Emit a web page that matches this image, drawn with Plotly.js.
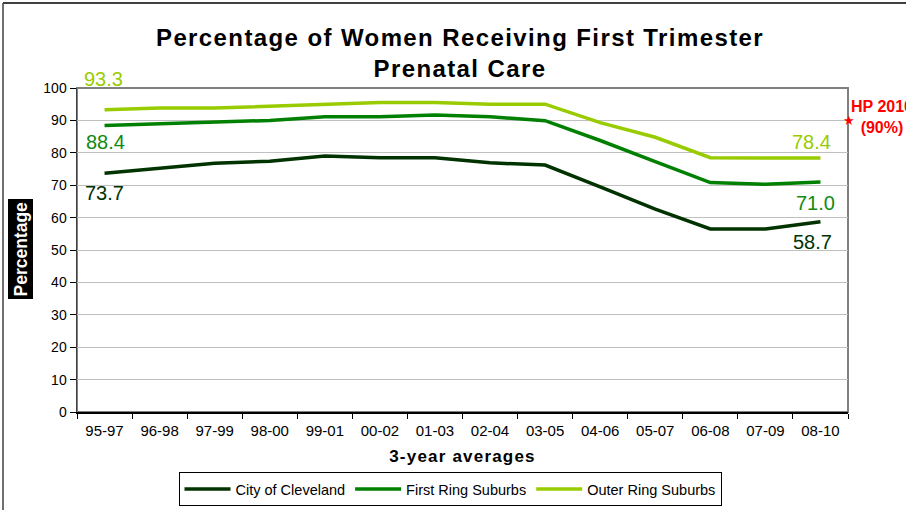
<!DOCTYPE html>
<html>
<head>
<meta charset="utf-8">
<script src="https://cdn.plot.ly/plotly-3.0.1.min.js"></script>
<style>
  html, body { margin: 0; padding: 0; background: #fff; overflow: hidden; }
  #chart { width: 906px; height: 510px; }
  .gtitle { letter-spacing: 1.4px; }
  .g-xtitle text { letter-spacing: 1.2px; }
</style>
</head>
<body>
<div id="chart"></div>
<script>
const categories = ['95-97','96-98','97-99','98-00','99-01','00-02','01-03','02-04','03-05','04-06','05-07','06-08','07-09','08-10'];
const cleveland = [73.7, 75.3, 76.8, 77.4, 79.0, 78.5, 78.5, 76.9, 76.2, 69.5, 62.6, 56.5, 56.5, 58.7];
const firstRing = [88.4, 89.0, 89.5, 90.0, 91.1, 91.1, 91.7, 91.1, 89.9, 83.8, 77.3, 70.8, 70.3, 71.0];
const outerRing = [93.3, 93.8, 93.8, 94.4, 94.9, 95.5, 95.5, 95.0, 95.0, 89.3, 84.8, 78.5, 78.4, 78.4];
const seriesNames = ['City of Cleveland', 'First Ring Suburbs', 'Outer Ring Suburbs'];
const hpTarget = 90;
const yTicks = [0,10,20,30,40,50,60,70,80,90,100];

const colors = ['#003300', '#008000', '#99cc00'];
const labelColors = ['#003300', '#108a10', '#99cc00'];

// plot area in pixels
const L = 77, R = 58, T = 88, B = 98, W = 906, H = 510;
const pw = W - L - R, ph = H - T - B;
const px = x => (x - L) / pw;
const py = y => (H - B - y) / ph;

const allSeries = [cleveland, firstRing, outerRing];
const traces = allSeries.map((vals, i) => ({
  type: 'scatter', mode: 'lines', x: categories, y: vals, name: seriesNames[i],
  line: { color: colors[i], width: 3.5 }, hoverinfo: 'x+y+name'
}));

const annotations = [];
allSeries.forEach((vals, i) => {
  const fs = [[0, -20], [1, -16], [-1, 31]][i];
  const ls = [[-8, -20], [-5, -21], [-9, 16]][i];
  annotations.push({ x: categories[0], y: vals[0], xref: 'x', yref: 'y', text: vals[0].toFixed(1),
    showarrow: false, xshift: fs[0], yshift: fs[1], font: { family: 'Arial, Liberation Sans, sans-serif', size: 20, color: labelColors[i] } });
  const n = vals.length - 1;
  annotations.push({ x: categories[n], y: vals[n], xref: 'x', yref: 'y', text: vals[n].toFixed(1),
    showarrow: false, xshift: ls[0], yshift: ls[1], font: { family: 'Arial, Liberation Sans, sans-serif', size: 20, color: labelColors[i] } });
});
// HP 2010 target marker
annotations.push({ x: 1, xref: 'paper', y: hpTarget, yref: 'y', text: '★', showarrow: false,
  xanchor: 'center', yanchor: 'middle', xshift: 1, font: { size: 13, color: '#ff0000' } });
annotations.push({ x: px(882), xref: 'paper', y: hpTarget, yref: 'y', text: '<b>HP 2010</b><br><b>(90%)</b>', showarrow: false,
  xanchor: 'center', yanchor: 'middle', yshift: 3, font: { family: 'Arial, Liberation Sans, sans-serif', size: 16, color: '#ff0000' } });
// Y axis title (white on black)
annotations.push({ x: px(20.5), xref: 'paper', y: py(249), yref: 'paper', text: '<b>Percentage</b>', textangle: -90,
  showarrow: false, xanchor: 'center', yanchor: 'middle', bgcolor: '#000000', borderpad: 2,
  font: { family: 'Arial, Liberation Sans, sans-serif', size: 17.5, color: '#ffffff' } });

const shapes = [
  { type: 'rect', xref: 'paper', yref: 'paper', x0: 0, x1: 1, y0: 0, y1: 1, line: { color: '#808080', width: 2 }, layer: 'below' },
  { type: 'line', xref: 'paper', yref: 'paper', x0: px(3), x1: px(906), y0: py(3), y1: py(3), line: { color: '#404040', width: 2 } },
  { type: 'line', xref: 'paper', yref: 'paper', x0: px(3), x1: px(3), y0: py(3), y1: py(510), line: { color: '#404040', width: 1.5 } }
];

const layout = {
  width: W, height: H,
  margin: { l: L, r: R, t: T, b: B, pad: 0, autoexpand: false },
  paper_bgcolor: '#ffffff', plot_bgcolor: '#ffffff',
  font: { family: 'Arial, Liberation Sans, sans-serif', color: '#000000' },
  title: {
    text: '<b>Percentage of Women Receiving First Trimester</b><br><b>Prenatal Care</b>',
    font: { family: 'Arial, Liberation Sans, sans-serif', size: 24, color: '#000000' },
    xref: 'container', x: 460 / W, xanchor: 'center', y: 1 - 46 / H, yanchor: 'middle'
  },
  xaxis: {
    type: 'category', categoryorder: 'array', categoryarray: categories,
    range: [-0.5, categories.length - 0.5],
    tickson: 'boundaries', ticks: 'outside', ticklen: 5, tickcolor: '#000000', tickwidth: 1,
    ticklabelstandoff: 4,
    showline: true, linecolor: '#000000', linewidth: 1.5,
    showgrid: false, zeroline: false,
    tickfont: { size: 15, color: '#000000' },
    title: { text: '<b>3-year averages</b>', font: { size: 17, color: '#000000' }, standoff: 12 },
    automargin: false
  },
  yaxis: {
    range: [0, 100], tickvals: yTicks, ticktext: yTicks.map(String),
    ticks: 'outside', ticklen: 6, tickcolor: '#000000', tickwidth: 1,
    showline: true, linecolor: '#404040', linewidth: 1.5,
    showgrid: true, gridcolor: '#c0c0c0', gridwidth: 1, zeroline: false,
    tickfont: { size: 14, color: '#000000' },
    automargin: false
  },
  legend: {
    orientation: 'h', xref: 'container', x: 450 / W, xanchor: 'center',
    yref: 'container', y: 1 - 472 / H, yanchor: 'top',
    bordercolor: '#000000', borderwidth: 1, bgcolor: '#ffffff',
    font: { size: 14.5, color: '#000000' }, itemwidth: 46, tracegroupgap: 0
  },
  showlegend: true,
  annotations: annotations,
  shapes: shapes
};

Plotly.newPlot('chart', traces, layout, { displayModeBar: false, staticPlot: true });
</script>
</body>
</html>
